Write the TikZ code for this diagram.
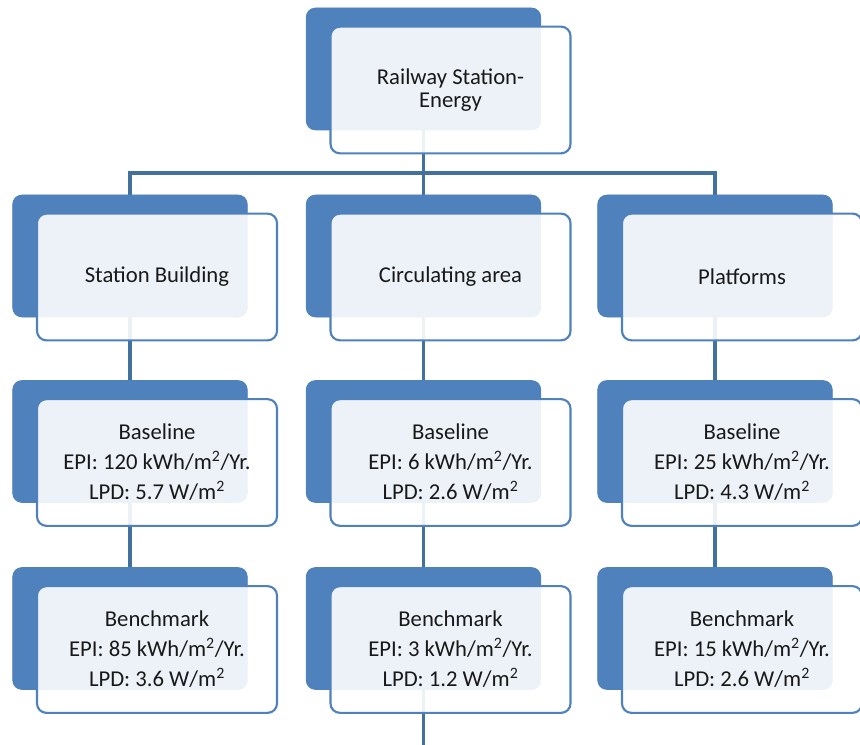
\documentclass[tikz,border=0pt]{standalone}
\usepackage{fontspec}
\setmainfont{Carlito}
\usepackage{xcolor}
\usepackage{tikz}
\usetikzlibrary{positioning}
\definecolor{boxblue}{HTML}{4F81BD}
\definecolor{linkblue}{HTML}{41719C}

\begin{document}
\begin{tikzpicture}[x=0.75pt, y=-0.75pt]
        % styles for the two layers of every box
        \tikzstyle{backbox} = [rectangle, rounded corners=7pt, minimum width=176pt, minimum height=91.5pt, fill=boxblue, inner sep=0pt]
        \tikzstyle{frontbox} = [rectangle, rounded corners=7pt, minimum width=180pt, minimum height=95pt, draw=boxblue, line width=1.6pt, fill=white, fill opacity=0.9, text opacity=1, align=center, text centered, text=black!90, font=\fontsize{17}{22.5}\selectfont]
        \tikzstyle{link} = [draw=linkblue, line width=2.4pt]

        \useasboundingbox (0,0) rectangle (860,745);

        % back boxes
        \node (rs) [backbox] at (423.5,69) {};
        \node (sb) [backbox] at (130,256) {};
        \node (ca) [backbox] at (423.5,256) {};
        \node (pf) [backbox] at (715,256) {};
        \node (sbBase) [backbox] at (130,441.5) {};
        \node (caBase) [backbox] at (423.5,441.5) {};
        \node (pfBase) [backbox] at (715,441.5) {};
        \node (sbBench) [backbox] at (130,628.5) {};
        \node (caBench) [backbox] at (423.5,628.5) {};
        \node (pfBench) [backbox] at (715,628.5) {};
        \coordinate (bus) at (423.5,173);
        \coordinate (tail) at (423.5,745);

        % connectors
        \draw [link] (rs.south) -- (bus);
        \draw [link] (sb.north) |- (bus) -| (pf.north);
        \draw [link] (bus) -- (ca.north);
        \draw [link] (sb) -- (sbBase);
        \draw [link] (sbBase) -- (sbBench);
        \draw [link] (ca) -- (caBase);
        \draw [link] (caBase) -- (caBench);
        \draw [link] (caBench) -- (tail);
        \draw [link] (pf) -- (pfBase);
        \draw [link] (pfBase) -- (pfBench);

        % back boxes again, over the connectors
        \foreach \b in {rs, sb, ca, pf, sbBase, caBase, pfBase, sbBench, caBench, pfBench}
            \fill [boxblue, rounded corners=7pt] (\b.north west) rectangle (\b.south east);

        % front boxes with the texts
        \node (rsF) [frontbox, shift={(27,21)}] at (rs) {Railway Station-\\[-5.5pt]Energy};
        \node (sbF) [frontbox, shift={(27,21)}] at (sb) {Station Building};
        \node (caF) [frontbox, shift={(27,21)}] at (ca) {Circulating area};
        \node (pfF) [frontbox, shift={(27,21)}] at (pf) {Platforms};
        \node (sbBaseF) [frontbox, shift={(27,21)}] at (sbBase) {Baseline\\EPI: 120 kWh/m\textsuperscript{2}/Yr.\\LPD: 5.7 W/m\textsuperscript{2}};
        \node (caBaseF) [frontbox, shift={(27,21)}] at (caBase) {Baseline\\EPI: 6 kWh/m\textsuperscript{2}/Yr.\\LPD: 2.6 W/m\textsuperscript{2}};
        \node (pfBaseF) [frontbox, shift={(27,21)}] at (pfBase) {Baseline\\EPI: 25 kWh/m\textsuperscript{2}/Yr.\\LPD: 4.3 W/m\textsuperscript{2}};
        \node (sbBenchF) [frontbox, shift={(27,21)}] at (sbBench) {Benchmark\\EPI: 85 kWh/m\textsuperscript{2}/Yr.\\LPD: 3.6 W/m\textsuperscript{2}};
        \node (caBenchF) [frontbox, shift={(27,21)}] at (caBench) {Benchmark\\EPI: 3 kWh/m\textsuperscript{2}/Yr.\\LPD: 1.2 W/m\textsuperscript{2}};
        \node (pfBenchF) [frontbox, shift={(27,21)}] at (pfBench) {Benchmark\\EPI: 15 kWh/m\textsuperscript{2}/Yr.\\LPD: 2.6 W/m\textsuperscript{2}};

    \end{tikzpicture}
\end{document}
